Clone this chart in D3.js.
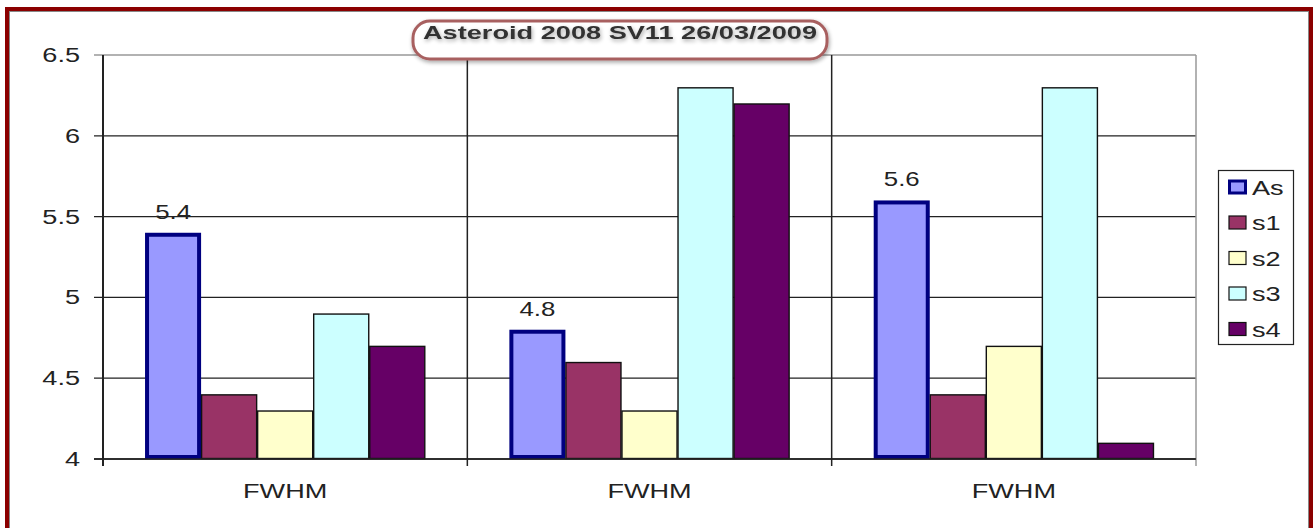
<!DOCTYPE html>
<html>
<head>
<meta charset="utf-8">
<script src="https://cdn.jsdelivr.net/npm/d3@7"></script>
<style>
  html, body { margin: 0; padding: 0; background: #fff; }
  svg { display: block; }
  text { font-family: "Liberation Sans", Arial, sans-serif; fill: #222; }
</style>
</head>
<body>
<svg id="chart" width="1314" height="528"></svg>
<script>
// Chart data
const categories = ["FWHM", "FWHM", "FWHM"];
const seriesNames = ["As", "s1", "s2", "s3", "s4"];
const seriesAs = [5.4, 4.8, 5.6];
const seriesS1 = [4.4, 4.6, 4.4];
const seriesS2 = [4.3, 4.3, 4.7];
const seriesS3 = [4.9, 6.3, 6.3];
const seriesS4 = [4.7, 6.2, 4.1];
const yTicks = [4, 4.5, 5, 5.5, 6, 6.5];
const titleText = "Asteroid 2008 SV11 26/03/2009";

const seriesValues = [seriesAs, seriesS1, seriesS2, seriesS3, seriesS4];
const fills = ["#9999FF", "#993366", "#FFFFCC", "#CCFFFF", "#660066"];

const svg = d3.select("#chart");
const W = 1314, H = 528;
const plot = { left: 103, right: 1196, top: 55, bottom: 459 };
const sx = 1.29; // horizontal stretch of the lettering

// Outer frame
svg.append("rect").attr("x", 7).attr("y", 9).attr("width", 1304).attr("height", 540)
  .attr("fill", "none").attr("stroke", "#8B0000").attr("stroke-width", 4);
svg.append("rect").attr("x", 9.5).attr("y", 11.5).attr("width", 1299).attr("height", 540)
  .attr("fill", "none").attr("stroke", "#888").attr("stroke-width", 1);

// Scales
const x0 = d3.scaleBand().domain(d3.range(categories.length))
  .range([plot.left, plot.right]).paddingInner(0).paddingOuter(0);
const x1 = d3.scaleBand().domain(d3.range(seriesNames.length))
  .range([0, x0.bandwidth()]).paddingInner(0)
  .paddingOuter(0.75);
const y = d3.scaleLinear().domain([4, 6.5]).range([plot.bottom, plot.top]);

function stretchedText(g, x, yy, str, opts = {}) {
  const t = g.append("g").attr("transform", `translate(${x},${yy}) scale(${sx},1)`)
    .append("text").attr("x", 0).attr("y", 0)
    .attr("text-anchor", opts.anchor || "middle")
    .attr("font-size", opts.size || 21)
    .text(str);
  return t;
}

// Horizontal gridlines
const grid = svg.append("g");
yTicks.forEach(v => {
  grid.append("line").attr("x1", plot.left - 9).attr("x2", plot.right)
    .attr("y1", y(v)).attr("y2", y(v))
    .attr("stroke", v === 6.5 ? "#999" : "#222").attr("stroke-width", 1.3);
});

// Category dividers
d3.range(categories.length + 1).forEach(i => {
  const xx = i < categories.length ? x0(i) : plot.right;
  grid.append("line").attr("x1", xx).attr("x2", xx)
    .attr("y1", plot.top).attr("y2", plot.bottom + 7)
    .attr("stroke", i === categories.length ? "#999" : "#222")
    .attr("stroke-width", i === 0 ? 2 : 1.5);
});

// Bars
const bars = svg.append("g");
seriesValues.forEach((vals, s) => {
  vals.forEach((v, c) => {
    const bx = x0(c) + x1(s);
    const isAs = s === 0;
    const inset = isAs ? 2 : 0.5;
    bars.append("rect")
      .attr("x", bx + inset).attr("y", y(v) + inset)
      .attr("width", x1.bandwidth() - 2 * inset)
      .attr("height", y(4) - y(v) - 2 * inset)
      .attr("fill", fills[s])
      .attr("stroke", isAs ? "#000080" : "#111")
      .attr("stroke-width", isAs ? 4 : 1.4);
  });
});

// Bottom axis line
svg.append("line").attr("x1", plot.left - 9).attr("x2", plot.right)
  .attr("y1", y(4)).attr("y2", y(4)).attr("stroke", "#222").attr("stroke-width", 1.5);

// Value labels on the As bars
seriesAs.forEach((v, c) => {
  const cx = x0(c) + x1(0) + x1.bandwidth() / 2;
  stretchedText(svg, cx, y(v) - 14, d3.format(".1f")(v), { size: 20 });
});

// Y tick labels
yTicks.forEach(v => {
  stretchedText(svg, 80, y(v) + 7, d3.format("")(v), { anchor: "end", size: 21 });
});

// Category labels
categories.forEach((c, i) => {
  stretchedText(svg, x0(i) + x0.bandwidth() / 2, 498, c, { size: 21 });
});

// Title box
const defs = svg.append("defs");
const f = defs.append("filter").attr("id", "shadow").attr("x", "-10%").attr("y", "-30%")
  .attr("width", "120%").attr("height", "160%");
f.append("feGaussianBlur").attr("in", "SourceAlpha").attr("stdDeviation", 2).attr("result", "b");
f.append("feOffset").attr("in", "b").attr("dx", 1).attr("dy", 2).attr("result", "o");
f.append("feComponentTransfer").attr("in", "o").attr("result", "o2")
  .append("feFuncA").attr("type", "linear").attr("slope", 0.35);
const fm = f.append("feMerge");
fm.append("feMergeNode").attr("in", "o2");
fm.append("feMergeNode").attr("in", "SourceGraphic");

svg.append("rect").attr("x", 413).attr("y", 21).attr("width", 414).attr("height", 38)
  .attr("rx", 17).attr("ry", 17)
  .attr("fill", "#fff").attr("stroke", "#A86060").attr("stroke-width", 3)
  .attr("filter", "url(#shadow)");
svg.append("text").attr("x", 620).attr("y", 39)
  .attr("text-anchor", "middle").attr("font-size", 18).attr("font-weight", "bold")
  .attr("fill", "#333").attr("textLength", 394).attr("lengthAdjust", "spacingAndGlyphs")
  .style("fill", "#333")
  .attr("filter", "url(#shadow)")
  .text(titleText);

// Legend
const lg = svg.append("g");
lg.append("rect").attr("x", 1218.5).attr("y", 170.5).attr("width", 75).attr("height", 174)
  .attr("fill", "#fff").attr("stroke", "#222").attr("stroke-width", 1.2);
seriesNames.forEach((name, i) => {
  const cy = 187 + i * 35.5;
  const isAs = i === 0;
  lg.append("rect").attr("x", isAs ? 1229.5 : 1229).attr("y", cy - 6.5 + (isAs ? 0.5 : 0))
    .attr("width", isAs ? 16 : 17).attr("height", isAs ? 12 : 13)
    .attr("fill", fills[i]).attr("stroke", isAs ? "#000080" : "#111")
    .attr("stroke-width", isAs ? 3 : 1.2);
  stretchedText(lg, 1252, cy + 7.5, name, { anchor: "start", size: 21 });
});
</script>
</body>
</html>
